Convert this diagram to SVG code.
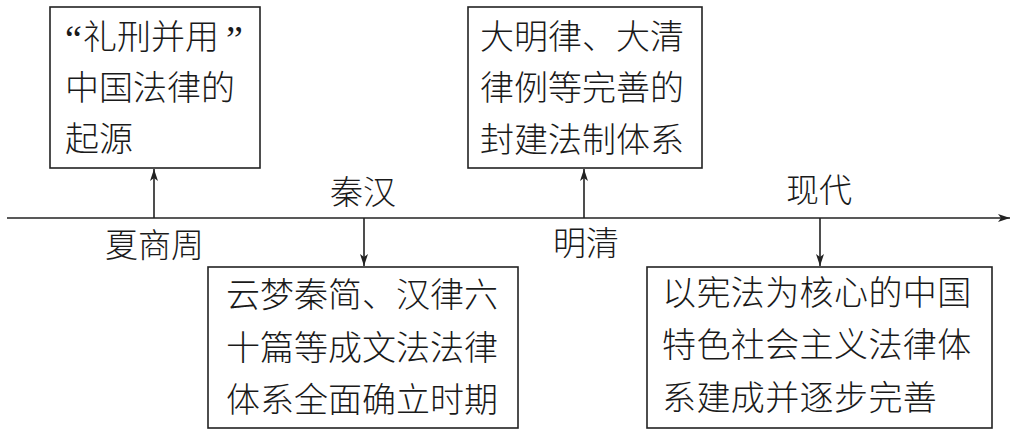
<svg xmlns="http://www.w3.org/2000/svg" width="1016" height="435" viewBox="0 0 1016 435">
<style>
.box{fill:#fff;stroke:#222;stroke-width:1.6}
.t{font-family:"Noto Sans CJK SC","Noto Sans",sans-serif;font-size:34px;font-weight:300;fill:#1a1a1a}
.lab{font-family:"Noto Sans CJK SC","Noto Sans",sans-serif;font-size:33px;font-weight:300;fill:#1a1a1a}
.q{font-family:"Liberation Serif",serif;font-size:38px;fill:#1a1a1a}
.ln{stroke:#222;stroke-width:1.6;fill:none}
</style>
<defs>
<marker id="ah" viewBox="0 0 12 8" refX="12" refY="4" markerWidth="12" markerHeight="8" markerUnits="userSpaceOnUse" orient="auto">
<path d="M0,0 L12,4 L0,8 L3,4 Z" fill="#222"/>
</marker>
</defs>
<rect width="1016" height="435" fill="#fff"/>
<g id="connectors">
<line class="ln" x1="7" y1="218" x2="1010" y2="218" marker-end="url(#ah)"/>
<line class="ln" x1="154" y1="218" x2="154" y2="169" marker-end="url(#ah)"/>
<line class="ln" x1="364" y1="218" x2="364" y2="266" marker-end="url(#ah)"/>
<line class="ln" x1="584" y1="218" x2="584" y2="169" marker-end="url(#ah)"/>
<line class="ln" x1="820" y1="218" x2="820" y2="266" marker-end="url(#ah)"/>
</g>
<g id="labels">
<text class="lab" x="105" y="257">夏商周</text>
<text class="lab" x="330" y="204">秦汉</text>
<text class="lab" x="553" y="255">明清</text>
<text class="lab" x="786" y="202">现代</text>
</g>
<g id="node-xsz">
<rect class="box" x="50" y="7" width="210" height="161"/>
<text class="q" x="65" y="52">“</text>
<text class="t" x="83" y="49">礼刑并用</text>
<text class="q" x="226" y="52">”</text>
<text class="t" x="65" y="100">中国法律的</text>
<text class="t" x="65" y="151">起源</text>
</g>
<g id="node-mq">
<rect class="box" x="468" y="7" width="234" height="161"/>
<text class="t" x="480" y="49">大明律、大清</text>
<text class="t" x="480" y="100">律例等完善的</text>
<text class="t" x="480" y="152">封建法制体系</text>
</g>
<g id="node-qh">
<rect class="box" x="208" y="267" width="310" height="161"/>
<text class="t" x="226" y="307">云梦秦简、汉律六</text>
<text class="t" x="226" y="360">十篇等成文法法律</text>
<text class="t" x="226" y="412">体系全面确立时期</text>
</g>
<g id="node-xd">
<rect class="box" x="647" y="267" width="345" height="161"/>
<text class="t" x="662" y="305" letter-spacing="0.4">以宪法为核心的中国</text>
<text class="t" x="662" y="357" letter-spacing="0.4">特色社会主义法律体</text>
<text class="t" x="662" y="410" letter-spacing="0.4">系建成并逐步完善</text>
</g>
</svg>
